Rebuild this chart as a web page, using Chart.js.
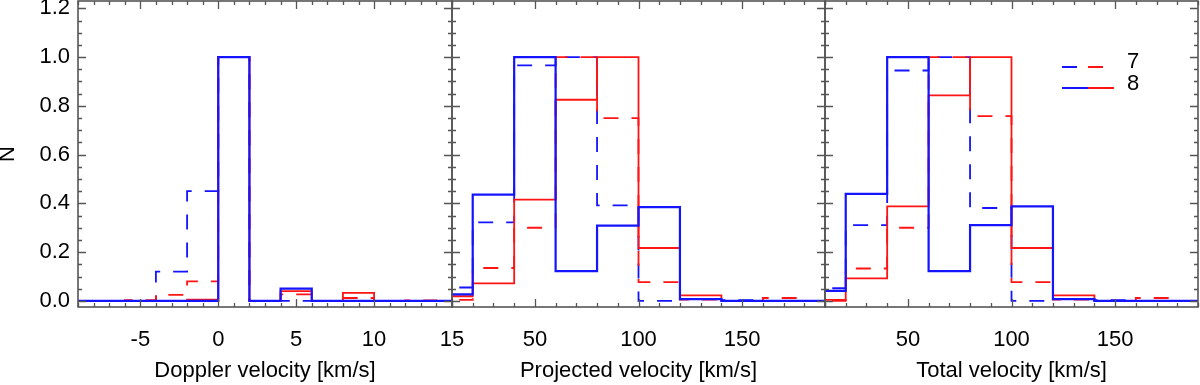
<!DOCTYPE html>
<html>
<head>
<meta charset="utf-8">
<script src="https://cdn.jsdelivr.net/npm/chart.js@4.4.1/dist/chart.umd.min.js"></script>
<style>
  body { margin: 0; background: #fff; }
  #wrap { position: relative; width: 1200px; height: 385px; }
  #wrap canvas { position: absolute; left: 0; top: 0; }
</style>
</head>
<body>
<div id="wrap">
  <canvas id="c1" width="1200" height="385"></canvas>
  <canvas id="c2" width="1200" height="385"></canvas>
  <canvas id="c3" width="1200" height="385"></canvas>
</div>
<script>
/* ---------- data ---------- */
// bin edges
const dopplerEdges   = [-10, -8, -6, -4, -2, 0, 2, 4, 6, 8, 10, 12, 14, 16];
const projectedEdges = [0, 20, 40, 60, 80, 100, 120, 140, 160, 180, 200];
const totalEdges     = [0, 20, 40, 60, 80, 100, 120, 140, 160, 180, 200];

// Doppler velocity, normalised counts per bin
const dopplerBlue7 = [0, 0, 0, 0.12, 0.45, 1.0, 0, 0, 0, 0, 0, 0, 0];
const dopplerRed7  = [0, 0, 0.003, 0.025, 0.08, 1.0, 0, 0.027, 0, 0.012, 0, 0.002, 0];
const dopplerBlue8 = [0, 0, 0, 0, 0, 1.0, 0, 0.05, 0, 0, 0, 0, 0];
const dopplerRed8  = [0, 0, 0, 0, 0.005, 1.0, 0, 0.04, 0, 0.033, 0, 0, 0];

// Projected velocity
const projectedBlue7 = [0.055, 0.322, 0.966, 1.0, 0.392, 0, 0.007, 0.003, 0, 0];
const projectedRed7  = [0.004, 0.135, 0.30, 1.0, 0.75, 0.077, 0.005, 0, 0.012, 0];
const projectedBlue8 = [0.027, 0.436, 1.0, 0.122, 0.309, 0.385, 0.007, 0, 0, 0];
const projectedRed8  = [0.019, 0.072, 0.415, 0.825, 1.0, 0.217, 0.023, 0, 0, 0];

// Total velocity
const totalBlue7 = [0.052, 0.311, 0.945, 1.0, 0.381, 0, 0.007, 0.003, 0, 0];
const totalRed7  = [0, 0.133, 0.30, 1.0, 0.758, 0.077, 0.005, 0, 0.012, 0];
const totalBlue8 = [0.041, 0.439, 1.0, 0.122, 0.311, 0.388, 0.007, 0, 0, 0];
const totalRed8  = [0.004, 0.092, 0.388, 0.843, 1.0, 0.217, 0.023, 0, 0, 0];

// tick labels
const dopplerTicks   = [-5, 0, 5, 10, 15];
const projectedTicks = [50, 100, 150];
const totalTicks     = [50, 100, 150];
const yTicks         = [0, 0.2, 0.4, 0.6, 0.8, 1.0, 1.2];

const legendLabels = ['7', '8'];

/* ---------- styling ---------- */
const BLUE = 'rgb(20,20,255)';
const RED = 'rgb(255,20,20)';
const AXIS = '#555';
const FONT = 'Liberation Sans, Arial, Helvetica, sans-serif';
const FSIZE = 22;
const DASH = [15, 13];

// histogram as step line points: value i holds from edge i to edge i+1
const steps = (edges, vals) => edges.map((e, i) => ({x: e, y: vals[Math.min(i, vals.length - 1)]}));

// inward ticks on all four sides + frame, like the original plot
const frameTicks = {
  id: 'frameTicks',
  afterDatasetsDraw(chart, args, o) {
    const {ctx, chartArea: a, scales: {x, y}} = chart;
    ctx.save();
    ctx.strokeStyle = AXIS;
    ctx.lineWidth = 1.3;
    ctx.beginPath();
    const xt = (v, len) => {
      const p = Math.round(x.getPixelForValue(v)) + 0.5;
      ctx.moveTo(p, a.bottom); ctx.lineTo(p, a.bottom - len);
      ctx.moveTo(p, a.top); ctx.lineTo(p, a.top + len);
    };
    const yt = (v, len) => {
      const p = Math.round(y.getPixelForValue(v)) + 0.5;
      ctx.moveTo(a.left, p); ctx.lineTo(a.left + len, p);
      ctx.moveTo(a.right, p); ctx.lineTo(a.right - len, p);
    };
    for (let k = Math.ceil(x.min / o.xMinor); k * o.xMinor <= x.max; k++) xt(k * o.xMinor, 4);
    o.xMajor.forEach(v => xt(v, 8));
    for (let k = 0; k * 0.05 <= 1.2001; k++) yt(k * 0.05, 4);
    yTicks.forEach(v => yt(v, 8));
    ctx.stroke();
    ctx.lineWidth = 1.6;
    ctx.strokeRect(a.left, a.top, a.right - a.left, a.bottom - a.top);
    ctx.restore();
  }
};

// two-colour legend lines (blue half, red half) in the last panel
const twoColourLegend = {
  id: 'twoColourLegend',
  afterDraw(chart, args, o) {
    if (!o.show) return;
    const ctx = chart.ctx;
    ctx.save();
    ctx.lineWidth = 2;
    // dashed row
    ctx.strokeStyle = BLUE;
    ctx.beginPath(); ctx.moveTo(1062, 67); ctx.lineTo(1077, 67); ctx.stroke();
    ctx.strokeStyle = RED;
    ctx.beginPath(); ctx.moveTo(1088, 67); ctx.lineTo(1103, 67); ctx.stroke();
    // solid row
    ctx.strokeStyle = BLUE;
    ctx.beginPath(); ctx.moveTo(1062, 88); ctx.lineTo(1088, 88); ctx.stroke();
    ctx.strokeStyle = RED;
    ctx.beginPath(); ctx.moveTo(1088, 88); ctx.lineTo(1114, 88); ctx.stroke();
    ctx.fillStyle = '#000';
    ctx.font = FSIZE + 'px ' + FONT;
    ctx.textBaseline = 'middle';
    ctx.fillText(legendLabels[0], 1127, 62);
    ctx.fillText(legendLabels[1], 1127, 84);
    ctx.restore();
  }
};

function makePanel(id, opt) {
  // first entry ends up on top
  const datasets = [
    {data: steps(opt.edges, opt.blue8), borderColor: BLUE, borderWidth: 2.2},
    {data: steps(opt.edges, opt.red8), borderColor: RED},
    {data: steps(opt.edges, opt.red7), borderColor: RED, borderDash: DASH},
    {data: steps(opt.edges, opt.blue7), borderColor: BLUE, borderDash: DASH}
  ].map(d => Object.assign({stepped: 'before', borderWidth: 1.8, pointRadius: 0, fill: false}, d));

  return new Chart(document.getElementById(id), {
    type: 'line',
    data: {datasets},
    options: {
      responsive: false,
      animation: false,
      layout: {padding: {left: opt.padL, right: opt.padR, top: 1, bottom: 0}},
      plugins: {
        legend: {display: false},
        tooltip: {enabled: false},
        frameTicks: {xMinor: opt.xMinor, xMajor: opt.ticks},
        twoColourLegend: {show: !!opt.legend}
      },
      scales: {
        x: {
          type: 'linear',
          min: opt.xMin, max: opt.xMax,
          grid: {display: false, drawTicks: false},
          border: {display: false},
          afterBuildTicks: s => { s.ticks = opt.ticks.map(v => ({value: v})); },
          afterFit: s => { s.height = 78; s.paddingLeft = 0; s.paddingRight = 0; },
          ticks: {color: '#000', font: {family: FONT, size: FSIZE}, padding: 20, maxRotation: 0, autoSkip: false},
          title: {display: true, text: opt.title, color: '#000', font: {family: FONT, size: FSIZE}, padding: {top: 0, bottom: 1}}
        },
        y: {
          display: opt.showY,
          min: -0.025, max: 1.23,
          grid: {display: false, drawTicks: false},
          border: {display: false},
          afterBuildTicks: s => { s.ticks = yTicks.map(v => ({value: v})); },
          afterFit: s => { s.width = opt.showY ? 78 : 0; s.paddingTop = 0; s.paddingBottom = 0; },
          ticks: {color: '#000', font: {family: FONT, size: FSIZE}, padding: 8, callback: v => v.toFixed(1)},
          title: {display: true, text: 'N', color: '#000', font: {family: FONT, size: FSIZE, lineHeight: 0.7}, padding: 0}
        }
      }
    },
    plugins: [frameTicks, twoColourLegend]
  });
}

makePanel('c1', {edges: dopplerEdges, blue7: dopplerBlue7, red7: dopplerRed7, blue8: dopplerBlue8, red8: dopplerRed8,
  xMin: -9, xMax: 15, xMinor: 1, ticks: dopplerTicks, title: 'Doppler velocity [km/s]', padL: 0, padR: 748, showY: true});
makePanel('c2', {edges: projectedEdges, blue7: projectedBlue7, red7: projectedRed7, blue8: projectedBlue8, red8: projectedRed8,
  xMin: 10, xMax: 190, xMinor: 10, ticks: projectedTicks, title: 'Projected velocity [km/s]', padL: 452, padR: 375, showY: false});
makePanel('c3', {edges: totalEdges, blue7: totalBlue7, red7: totalRed7, blue8: totalBlue8, red8: totalRed8,
  xMin: 10, xMax: 190, xMinor: 10, ticks: totalTicks, title: 'Total velocity [km/s]', padL: 825, padR: 2, showY: false, legend: true});
</script>
</body>
</html>
